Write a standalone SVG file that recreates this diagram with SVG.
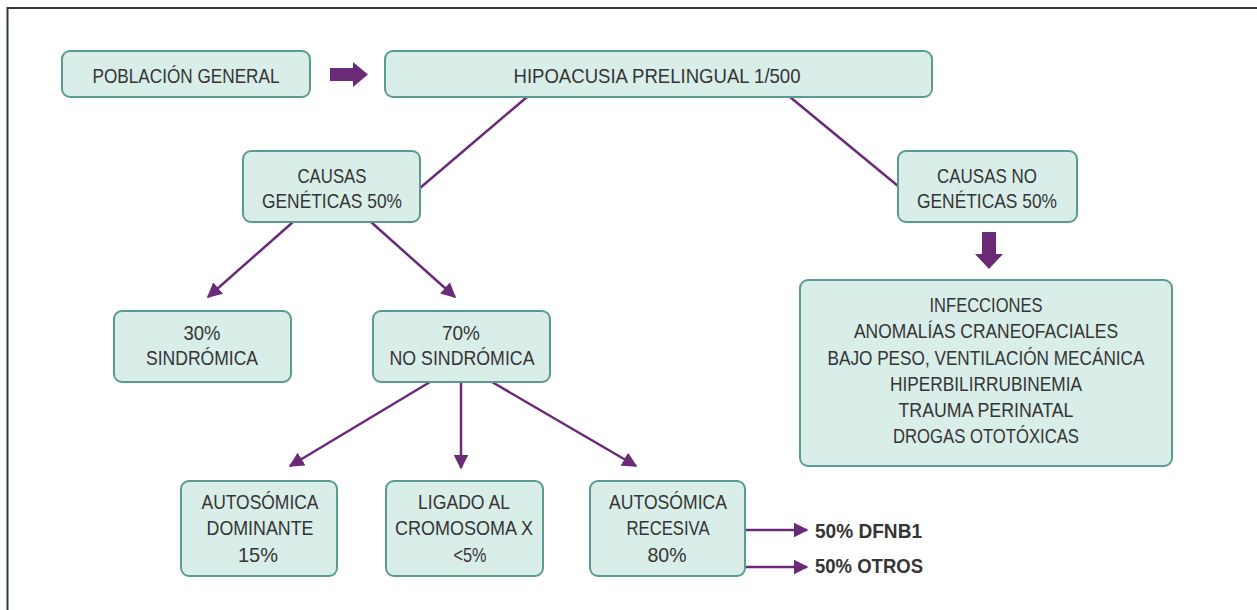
<svg xmlns="http://www.w3.org/2000/svg" width="1257" height="610" viewBox="0 0 1257 610">
<defs>
<style>
.box{fill:#d9ede9;stroke:#5a9c92;stroke-width:2}
.t{font-family:"Liberation Sans",Arial,sans-serif;font-size:21px;fill:#353535;text-anchor:middle}
.b{font-family:"Liberation Sans",Arial,sans-serif;font-size:21px;font-weight:bold;fill:#353535}
.ln{stroke:#6a2a78;stroke-width:2.5;fill:none}
.fat{fill:#6a2a78}
</style>
<marker id="ah" viewBox="0 0 10 10" refX="9" refY="5" markerWidth="6" markerHeight="6" markerUnits="strokeWidth" orient="auto">
<path d="M0,0 L10,5 L0,10 z" fill="#6a2a78"/>
</marker>
</defs>
<rect x="0" y="0" width="1257" height="610" fill="#fff"/>
<rect x="7.5" y="8" width="1260" height="620" fill="none" stroke="#2e3a44" stroke-width="2"/>

<g id="connectors">
<path class="fat" d="M330,68 H353 V62 L368,74.5 L353,87 V81 H330 z"/>
<path class="fat" d="M982,232 H996 V254 H1003 L989,269 L975,254 H982 z"/>
<line class="ln" x1="527" y1="97" x2="420" y2="188"/>
<line class="ln" x1="790" y1="97" x2="898" y2="186"/>
<line class="ln" x1="293" y1="222" x2="208" y2="297" marker-end="url(#ah)"/>
<line class="ln" x1="371" y1="222" x2="455" y2="297" marker-end="url(#ah)"/>
<line class="ln" x1="430" y1="382" x2="290" y2="466" marker-end="url(#ah)"/>
<line class="ln" x1="461" y1="382" x2="461" y2="468" marker-end="url(#ah)"/>
<line class="ln" x1="492" y1="382" x2="636" y2="466" marker-end="url(#ah)"/>
<line class="ln" x1="745" y1="530" x2="807" y2="530" marker-end="url(#ah)"/>
<line class="ln" x1="745" y1="567" x2="807" y2="567" marker-end="url(#ah)"/>
</g>

<g id="poblacion">
<rect class="box" x="62" y="51" width="248" height="46" rx="8"/>
<text class="t" x="186" y="83" textLength="187" lengthAdjust="spacingAndGlyphs">POBLACIÓN GENERAL</text>
</g>
<g id="hipoacusia">
<rect class="box" x="385" y="51" width="547" height="46" rx="8"/>
<text class="t" x="657" y="83" textLength="287" lengthAdjust="spacingAndGlyphs">HIPOACUSIA PRELINGUAL 1/500</text>
</g>
<g id="geneticas">
<rect class="box" x="243" y="151" width="177" height="71" rx="8"/>
<text class="t" x="332" y="183" textLength="69" lengthAdjust="spacingAndGlyphs">CAUSAS</text>
<text class="t" x="332" y="208" textLength="140" lengthAdjust="spacingAndGlyphs">GENÉTICAS 50%</text>
</g>
<g id="nogeneticas">
<rect class="box" x="898" y="151" width="179" height="71" rx="8"/>
<text class="t" x="987" y="183" textLength="100" lengthAdjust="spacingAndGlyphs">CAUSAS NO</text>
<text class="t" x="987" y="208" textLength="140" lengthAdjust="spacingAndGlyphs">GENÉTICAS 50%</text>
</g>
<g id="infecciones">
<rect class="box" x="800" y="280" width="372" height="186" rx="8"/>
<text class="t" x="986" y="312" textLength="113" lengthAdjust="spacingAndGlyphs">INFECCIONES</text>
<text class="t" x="986" y="338" textLength="264" lengthAdjust="spacingAndGlyphs">ANOMALÍAS CRANEOFACIALES</text>
<text class="t" x="986" y="365" textLength="317" lengthAdjust="spacingAndGlyphs">BAJO PESO, VENTILACIÓN MECÁNICA</text>
<text class="t" x="986" y="391" textLength="192" lengthAdjust="spacingAndGlyphs">HIPERBILIRRUBINEMIA</text>
<text class="t" x="986" y="417" textLength="175" lengthAdjust="spacingAndGlyphs">TRAUMA PERINATAL</text>
<text class="t" x="986" y="443" textLength="186" lengthAdjust="spacingAndGlyphs">DROGAS OTOTÓXICAS</text>
</g>
<g id="sindromica">
<rect class="box" x="114" y="311" width="177" height="71" rx="8"/>
<text class="t" x="202" y="340" textLength="37" lengthAdjust="spacingAndGlyphs">30%</text>
<text class="t" x="202" y="365" textLength="112" lengthAdjust="spacingAndGlyphs">SINDRÓMICA</text>
</g>
<g id="nosindromica">
<rect class="box" x="373" y="311" width="177" height="71" rx="8"/>
<text class="t" x="461" y="340" textLength="38" lengthAdjust="spacingAndGlyphs">70%</text>
<text class="t" x="462" y="365" textLength="145" lengthAdjust="spacingAndGlyphs">NO SINDRÓMICA</text>
</g>
<g id="dominante">
<rect class="box" x="181" y="481" width="156" height="95" rx="8"/>
<text class="t" x="260" y="509" textLength="117" lengthAdjust="spacingAndGlyphs">AUTOSÓMICA</text>
<text class="t" x="260" y="535" textLength="107" lengthAdjust="spacingAndGlyphs">DOMINANTE</text>
<text class="t" x="258" y="562" textLength="40" lengthAdjust="spacingAndGlyphs">15%</text>
</g>
<g id="ligado">
<rect class="box" x="386" y="481" width="157" height="95" rx="8"/>
<text class="t" x="464" y="509" textLength="92" lengthAdjust="spacingAndGlyphs">LIGADO AL</text>
<text class="t" x="464" y="535" textLength="138" lengthAdjust="spacingAndGlyphs">CROMOSOMA X</text>
<text class="t" x="470" y="562" textLength="33" lengthAdjust="spacingAndGlyphs">&lt;5%</text>
</g>
<g id="recesiva">
<rect class="box" x="590" y="481" width="155" height="95" rx="8"/>
<text class="t" x="668" y="509" textLength="118" lengthAdjust="spacingAndGlyphs">AUTOSÓMICA</text>
<text class="t" x="668" y="535" textLength="83" lengthAdjust="spacingAndGlyphs">RECESIVA</text>
<text class="t" x="667" y="562" textLength="39" lengthAdjust="spacingAndGlyphs">80%</text>
</g>
<g id="dfnb1"><text class="b" x="815" y="538" textLength="107" lengthAdjust="spacingAndGlyphs">50% DFNB1</text></g>
<g id="otros"><text class="b" x="815" y="573" textLength="108" lengthAdjust="spacingAndGlyphs">50% OTROS</text></g>
</svg>
